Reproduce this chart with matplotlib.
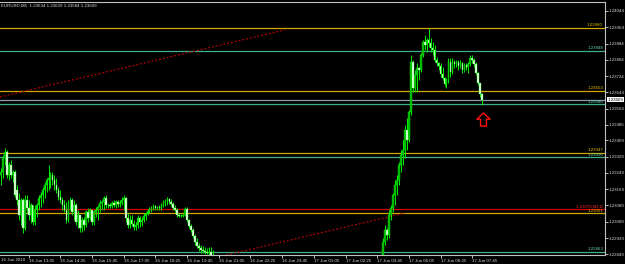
import numpy as np
import matplotlib
matplotlib.use("Agg")
import matplotlib.pyplot as plt
import matplotlib.transforms as mtrans
from matplotlib import font_manager
from matplotlib.path import Path

nan = np.nan

# ---------------- data (prices in points, 1e-5) ----------------
left_open = [123239, 123253, 123322, 123352, 123239, 123288, 123239, 123253, 123165, 123116,
             123042, 123116, 122978, 123116, 123077, 123042, 123091, 123008, 123067, 123091,
             123126, 123141, 123165, 123190, 123214, 123224, 123239, 123214, 123190, 123165,
             123131, 123116, 123091, 123067, 123018, 123106, 123116, 123057, 123091, 123008,
             123042, 122978, 123018, 122993, 123057, 123028, 123067, 123008, 123057, 123067,
             123082, 123101, 123106, 123126, 123091, 123091, 123087, 123101, 123091, 123106,
             123096, 123101, 123116, 123126, 123028, 122993, 123018, 122998, 122983, 122993,
             123028, 123008, 123018, 123037, 123047, 123062, 123072, 123077, 123087, 123077,
             123082, 123077, 123091, 123106, 123111, 123121, 123106, 123096, 123077, 123067,
             123042, 123037, 123037, 123042, 123072, 123018, 122988, 122969, 122939, 122910,
             122890, 122880, 122870, 122866, 122861, 122856, 122861, 122841]
left_high = [123273, 123337, 123371, 123362, 123303, 123312, 123263, 123263, 123190, 123150,
             123126, 123126, 123141, 123141, 123116, 123101, 123091, 123091, 123101, 123141,
             123155, 123180, 123204, 123224, 123288, 123253, 123253, 123239, 123224, 123180,
             123165, 123131, 123116, 123106, 123116, 123131, 123126, 123116, 123101, 123067,
             123042, 123033, 123033, 123067, 123077, 123077, 123067, 123067, 123082, 123091,
             123116, 123116, 123136, 123141, 123101, 123101, 123111, 123116, 123116, 123116,
             123116, 123131, 123141, 123131, 123052, 123042, 123042, 123018, 123008, 123042,
             123037, 123033, 123052, 123057, 123072, 123082, 123087, 123096, 123091, 123087,
             123091, 123101, 123116, 123121, 123131, 123126, 123121, 123106, 123091, 123077,
             123052, 123047, 123047, 123082, 123082, 123023, 122998, 122978, 122949, 122929,
             122905, 122895, 122890, 122885, 122880, 122885, 122885, 122870]
left_low = [123190, 123224, 123288, 123224, 123214, 123224, 123204, 123131, 123091, 123018,
            122993, 122954, 122969, 123057, 123018, 123003, 122993, 122993, 123033, 123067,
            123082, 123101, 123126, 123155, 123165, 123175, 123190, 123165, 123150, 123116,
            123101, 123067, 123057, 123003, 123008, 123067, 123042, 123018, 122993, 122978,
            122959, 122959, 122969, 122983, 123008, 123018, 122993, 122993, 123033, 123018,
            123057, 123067, 123067, 123077, 123077, 123077, 123077, 123082, 123077, 123082,
            123082, 123091, 123067, 123008, 122978, 122978, 122988, 122969, 122969, 122978,
            122983, 122988, 123008, 123018, 123042, 123052, 123057, 123067, 123067, 123067,
            123067, 123067, 123082, 123087, 123091, 123096, 123087, 123067, 123057, 123033,
            123033, 123033, 123033, 123037, 123008, 122978, 122959, 122929, 122895, 122880,
            122866, 122856, 122856, 122851, 122851, 122841, 122831, 122812]
left_close = [123253, 123322, 123352, 123239, 123288, 123239, 123253, 123141, 123116, 123042,
              123116, 122978, 123116, 123077, 123042, 123091, 123008, 123067, 123091, 123126,
              123141, 123165, 123190, 123214, 123224, 123239, 123214, 123190, 123165, 123131,
              123116, 123091, 123067, 123018, 123106, 123116, 123057, 123091, 123008, 123042,
              122978, 123018, 122993, 123057, 123028, 123067, 123008, 123057, 123067, 123082,
              123101, 123106, 123126, 123091, 123091, 123087, 123101, 123091, 123106, 123096,
              123101, 123116, 123126, 123028, 122993, 123018, 122998, 122983, 122993, 123028,
              123008, 123018, 123037, 123047, 123062, 123072, 123077, 123087, 123077, 123082,
              123077, 123091, 123106, 123111, 123121, 123106, 123096, 123077, 123067, 123042,
              123037, 123037, 123042, 123072, 123018, 122988, 122969, 122939, 122910, 122890,
              122880, 122870, 122866, 122861, 122856, 122861, 122841, 122821]

# bars that trade below the visible price range (not readable) -> missing
hidden_bars = 85

right_open = [122821, 122910, 122969, 122944, 123042, 123077, 123141, 123190, 123214, 123288,
              123337, 123362, 123460, 123411, 123548, 123794, 123666, 123730, 123764, 123754,
              123828, 123892, 123877, 123902, 123887, 123862, 123852, 123803, 123789, 123774,
              123735, 123715, 123686, 123705, 123794, 123744, 123794, 123784, 123794, 123774,
              123789, 123754, 123779, 123769, 123784, 123813, 123803, 123784, 123740, 123690,
              123634]
right_high = [122929, 122993, 122978, 123067, 123091, 123150, 123214, 123239, 123303, 123362,
              123411, 123484, 123519, 123558, 123828, 123803, 123754, 123789, 123769, 123838,
              123902, 123926, 123911, 123960, 123911, 123892, 123877, 123818, 123794, 123789,
              123769, 123720, 123715, 123813, 123813, 123813, 123803, 123803, 123803, 123803,
              123794, 123789, 123789, 123794, 123828, 123828, 123813, 123794, 123744, 123690,
              123639]
right_low = [122812, 122895, 122920, 122929, 123018, 123057, 123091, 123141, 123190, 123253,
             123288, 123322, 123362, 123401, 123533, 123646, 123646, 123646, 123705, 123744,
             123818, 123852, 123843, 123867, 123843, 123828, 123794, 123774, 123754, 123720,
             123705, 123676, 123666, 123690, 123720, 123735, 123764, 123769, 123754, 123764,
             123740, 123744, 123754, 123740, 123774, 123789, 123769, 123730, 123681, 123622,
             123584]
right_close = [122910, 122969, 122944, 123042, 123077, 123141, 123190, 123214, 123288, 123337,
               123362, 123460, 123411, 123548, 123794, 123666, 123730, 123764, 123754, 123828,
               123892, 123877, 123902, 123887, 123862, 123852, 123803, 123789, 123774, 123735,
               123715, 123686, 123705, 123794, 123744, 123794, 123784, 123794, 123774, 123789,
               123754, 123779, 123769, 123784, 123813, 123803, 123784, 123740, 123690, 123634,
               123609]

title_text = "EURUSD,M5  1.23634 1.23639 1.23584 1.23609"

y_tick_values = [1.24044, 1.23964, 1.23884, 1.23804, 1.23724, 1.23644, 1.23564, 1.23485,
                 1.23409, 1.23329, 1.23249, 1.23169, 1.23089, 1.23009, 1.22929, 1.22849]
current_price = 1.23609

x_tick_bars = [14, 30, 46, 62, 78, 94, 110, 126, 142, 158, 174, 190, 206, 222, 238]
x_tick_labels = ["16 Jun 13:05", "16 Jun 14:25", "16 Jun 15:45", "16 Jun 17:05",
                 "16 Jun 18:25", "16 Jun 19:45", "16 Jun 21:05", "16 Jun 22:25",
                 "16 Jun 23:45", "17 Jun 01:05", "17 Jun 02:25", "17 Jun 03:45",
                 "17 Jun 05:05", "17 Jun 06:25", "17 Jun 07:45"]
first_date_label = "16 Jun 2010"

level_prices = [1.23960, 1.23848, 1.23653, 1.23586, 1.23347, 1.23326, 1.23070, 1.23051, 1.22863]
level_labels = ["1.23960", "1.23848", "1.23653", "1.23586", "1.23347", "1.23326",
                "1.23070 MCD", "1.23051", "1.22863"]
level_kinds = ["gold", "teal", "gold", "teal", "gold", "teal", "red", "gold", "teal"]

trend_upper_bars = [-0.5, 143.4]
trend_upper_prices = [1.23622, 1.23951]
trend_lower_bars = [110.0, 204.0]
trend_lower_prices = [1.22837, 1.23052]

arrow_bar = 243.2
arrow_price = 1.23516

# ---------------- assemble ----------------
opens = np.array(left_open + [nan] * hidden_bars + right_open, dtype=float) / 1e5
highs = np.array(left_high + [nan] * hidden_bars + right_high, dtype=float) / 1e5
lows = np.array(left_low + [nan] * hidden_bars + right_low, dtype=float) / 1e5
closes = np.array(left_close + [nan] * hidden_bars + right_close, dtype=float) / 1e5
xb = np.arange(len(opens))
valid = ~np.isnan(opens)

# ---------------- fonts ----------------
FAM, FS = "Liberation Sans", 3.2
plt.rcParams["font.family"] = [FAM, "DejaVu Sans"]
plt.rcParams["lines.scale_dashes"] = False

COL = {"gold": "#d2a800", "teal": "#3fb08e", "red": "#d00000"}
LBL = {"gold": "#e8c400", "teal": "#6ad6b2", "red": "#ff2a2a"}
TXT = "#d8d8d8"

W, H = 625, 264
fig = plt.figure(figsize=(W / 100, H / 100), dpi=100, facecolor="black")
ax = fig.add_axes([0, 9 / H, 605 / W, 253 / H])
ax.set_facecolor("black")

px_per_bar = 1.98
ax.set_xlim(-1 / px_per_bar, 604 / px_per_bar)
ax.set_ylim(1.22846, 1.24088)

# horizontal levels
for p, k in zip(level_prices, level_kinds):
    ax.axhline(p, color=COL[k], lw=0.9, zorder=1)
ax.axhline(current_price, color="#8e9cb0", lw=0.9, zorder=1)

# trend lines
ax.plot(trend_upper_bars, trend_upper_prices, color="#b00000", lw=0.9,
        dashes=(1.4, 1.4), zorder=1.5)
ax.plot(trend_lower_bars, trend_lower_prices, color="#b00000", lw=0.9,
        dashes=(1.4, 1.4), zorder=1.5)

# candles
x = xb[valid]
o, h, l, c = opens[valid], highs[valid], lows[valid], closes[valid]
ax.vlines(x, l, h, colors="#00e600", lw=0.75, zorder=3)
up = c >= o
dn = ~up
body_h = np.abs(c - o)
ax.bar(x[up], body_h[up], bottom=o[up], width=0.8, color="#00b000",
       edgecolor="#00ff00", linewidth=0.25, zorder=4)
ax.bar(x[dn], body_h[dn], bottom=c[dn], width=0.8, color="#e4ffe4",
       edgecolor="#40ff40", linewidth=0.25, zorder=4)

# level labels
blend = mtrans.blended_transform_factory(ax.transAxes, ax.transData)
for p, lab, k in zip(level_prices, level_labels, level_kinds):
    ax.annotate(lab, xy=(603 / 605, p), xycoords=blend, xytext=(0, 0.5),
                textcoords="offset points", ha="right", va="bottom",
                fontsize=FS, color=LBL[k], zorder=6)

# arrow
arrow_path = Path([(-1.0, 0.05), (0.0, 1.0), (1.0, 0.05), (0.45, 0.05), (0.45, -1.0),
                   (-0.45, -1.0), (-0.45, 0.05), (-1.0, 0.05)], closed=True)
ax.plot([arrow_bar], [arrow_price], marker=arrow_path, markersize=9.5,
        markerfacecolor="none", markeredgecolor="#ff1010", markeredgewidth=1.0,
        linestyle="none", zorder=7)

# title
ax.text(1 / 605, 1 - 3.8 / 253, title_text, transform=ax.transAxes, ha="left", va="center",
        fontsize=FS, color=TXT, zorder=8)

# axes styling
ax.spines["left"].set_visible(False)
for s in ["top", "bottom", "right"]:
    ax.spines[s].set_color("#c0c0c0")
    ax.spines[s].set_linewidth(0.8)

ax.yaxis.tick_right()
ax.set_yticks(y_tick_values)
ax.set_yticklabels([f"{v:.5f}" for v in y_tick_values])
ax.tick_params(axis="y", direction="out", length=1.8, width=0.7, colors="#c0c0c0",
               labelcolor=TXT, labelsize=FS, pad=0.9)

ax.set_xticks(x_tick_bars)
ax.set_xticklabels(x_tick_labels, ha="left")
ax.tick_params(axis="x", direction="out", length=1.8, width=0.7, colors="#c0c0c0",
               labelcolor=TXT, labelsize=FS, pad=1.0)
for t in ax.get_xticklabels():
    t.set_horizontalalignment("left")
ax.annotate(first_date_label, xy=(1 / 605, 0), xycoords="axes fraction", xytext=(0, -2.4),
            textcoords="offset points", ha="left", va="top", fontsize=FS, color=TXT,
            annotation_clip=False)

# current price tag
ax.annotate(f"{current_price:.5f}", xy=(1, current_price), xycoords=blend,
            xytext=(2.0, 0), textcoords="offset points", ha="left", va="center",
            fontsize=FS, color="black", annotation_clip=False, zorder=10,
            bbox=dict(boxstyle="square,pad=0.12", fc="white", ec="none"))

fig.savefig("out.png", dpi=100, facecolor="black")
